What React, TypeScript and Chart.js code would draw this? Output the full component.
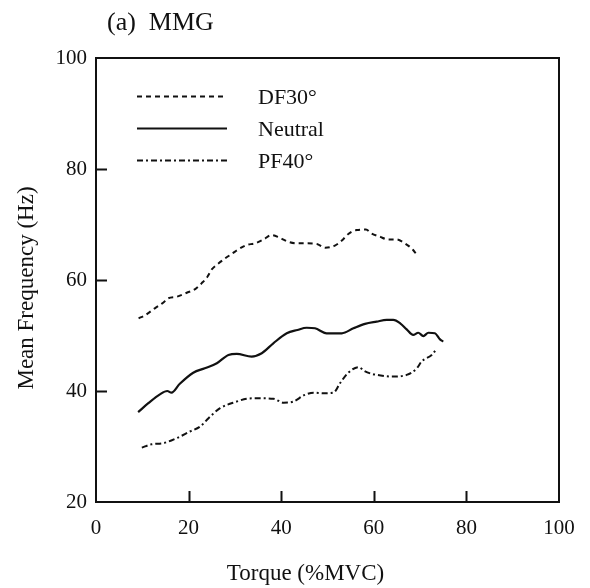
import React, { useEffect, useRef } from "react";
import { Chart, registerables } from "chart.js";

Chart.register(...registerables);

const TITLE = "(a)  MMG";
const X_TITLE = "Torque (%MVC)";
const Y_TITLE = "Mean Frequency (Hz)";
const SERIES_LABELS = ["DF30°", "Neutral", "PF40°"];
const X_RANGE = [0, 100];
const Y_RANGE = [20, 100];
const TICK_STEP = 20;

const df30Torque = [9.2, 10.5, 12.7, 14.5, 15.6, 17.5, 19.6, 21.5, 22.8, 24.0, 25.0, 26.5, 27.9, 29.5, 30.7, 32.5, 34.3, 36.2, 37.9, 39.7, 41.5, 43.5, 45.5, 47.7, 49.5, 51.6, 53.1, 54.5, 56.3, 58.3, 59.5, 61.3, 63.1, 64.9, 66.7, 68.4, 69.4];
const df30Freq = [53.1, 53.6, 54.9, 55.9, 56.7, 57.0, 57.7, 58.4, 59.4, 60.5, 61.9, 63.0, 63.9, 64.8, 65.5, 66.3, 66.6, 67.3, 68.1, 67.6, 66.9, 66.6, 66.6, 66.5, 65.8, 66.2, 67.1, 68.3, 69.0, 69.1, 68.4, 67.8, 67.3, 67.3, 66.6, 65.5, 64.4];

const neutralTorque = [9.1, 11.3, 13.8, 15.4, 16.3, 18.1, 21.0, 23.5, 26.1, 28.6, 30.4, 33.6, 35.8, 38.3, 41.2, 43.5, 45.5, 47.3, 49.8, 53.1, 55.6, 58.1, 60.6, 62.8, 64.2, 65.7, 67.1, 68.5, 69.6, 70.7, 71.8, 73.2, 74.3, 75.0];
const neutralFreq = [36.2, 37.8, 39.4, 40.0, 39.7, 41.3, 43.3, 44.1, 45.0, 46.5, 46.7, 46.2, 46.8, 48.6, 50.4, 51.0, 51.4, 51.3, 50.4, 50.4, 51.3, 52.1, 52.5, 52.8, 52.8, 52.2, 51.1, 50.1, 50.5, 49.9, 50.5, 50.4, 49.3, 48.9];

const pf40Torque = [9.9, 12.0, 14.5, 17.4, 20.3, 22.5, 24.3, 26.8, 30.4, 32.5, 34.7, 38.3, 40.5, 42.6, 45.1, 47.0, 49.1, 51.3, 52.7, 54.5, 56.7, 58.0, 59.5, 61.5, 63.8, 67.1, 69.3, 70.3, 72.5, 73.6];
const pf40Freq = [29.8, 30.4, 30.6, 31.5, 32.7, 33.6, 35.1, 36.9, 38.1, 38.6, 38.7, 38.6, 37.9, 38.1, 39.3, 39.7, 39.6, 39.7, 41.4, 43.3, 44.3, 43.6, 43.1, 42.8, 42.6, 42.9, 44.1, 45.3, 46.5, 47.6];

const SERIF = '"Liberation Serif", "Times New Roman", serif';
const INK = "#111111";

const toPoints = (xs: number[], ys: number[]) => xs.map((x, i) => ({ x, y: ys[i] }));

const decorPlugin = {
  id: "decor",
  afterDraw(chart: any) {
    const { ctx, chartArea: a, scales } = chart;
    ctx.save();
    ctx.strokeStyle = INK;
    ctx.fillStyle = INK;
    ctx.lineWidth = 2;
    ctx.setLineDash([]);
    ctx.strokeRect(a.left, a.top, a.right - a.left, a.bottom - a.top);

    // inward tick marks
    ctx.beginPath();
    const xs = scales.x;
    xs.ticks.forEach((t: any) => {
      if (t.value > xs.min && t.value < xs.max) {
        const px = Math.round(xs.getPixelForValue(t.value)) + 0.5;
        ctx.moveTo(px, a.bottom);
        ctx.lineTo(px, a.bottom - 11);
      }
    });
    const ys = scales.y;
    ys.ticks.forEach((t: any) => {
      if (t.value > ys.min && t.value < ys.max) {
        const py = Math.round(ys.getPixelForValue(t.value)) + 0.5;
        ctx.moveTo(a.left, py);
        ctx.lineTo(a.left + 11, py);
      }
    });
    ctx.stroke();

    // title
    ctx.font = `26px ${SERIF}`;
    ctx.textAlign = "left";
    ctx.textBaseline = "alphabetic";
    ctx.fillText(TITLE, a.left + 11, a.top - 28);

    // axis titles
    ctx.font = `23px ${SERIF}`;
    ctx.textAlign = "center";
    ctx.fillText(X_TITLE, (a.left + a.right) / 2 - 22, 580);
    ctx.save();
    ctx.translate(27, (a.top + a.bottom) / 2 + 8);
    ctx.rotate(-Math.PI / 2);
    ctx.textBaseline = "middle";
    ctx.fillText(Y_TITLE, 0, 0);
    ctx.restore();

    // legend
    const rowY = [a.top + 38, a.top + 70, a.top + 102];
    chart.data.datasets.forEach((ds: any, i: number) => {
      const y = rowY[i] + 0.5;
      ctx.lineWidth = ds.borderWidth;
      ctx.setLineDash(ds.borderDash || []);
      ctx.beginPath();
      ctx.moveTo(a.left + 41, y);
      ctx.lineTo(a.left + 131, y);
      ctx.stroke();
      ctx.setLineDash([]);
      ctx.font = `22px ${SERIF}`;
      ctx.textAlign = "left";
      ctx.textBaseline = "middle";
      ctx.fillText(ds.label, a.left + 162, rowY[i] + 2);
    });
    ctx.restore();
  },
};

export default function App() {
  const canvasRef = useRef<HTMLCanvasElement | null>(null);

  useEffect(() => {
    const canvas = canvasRef.current;
    if (!canvas) return;
    Chart.defaults.color = INK;
    const chart = new Chart(canvas, {
      type: "line",
      data: {
        datasets: [
          {
            label: SERIES_LABELS[0],
            data: toPoints(df30Torque, df30Freq),
            borderColor: INK,
            borderWidth: 2,
            borderDash: [5, 4],
            pointRadius: 0,
            cubicInterpolationMode: "monotone",
            fill: false,
          },
          {
            label: SERIES_LABELS[1],
            data: toPoints(neutralTorque, neutralFreq),
            borderColor: INK,
            borderWidth: 2.2,
            borderDash: [],
            pointRadius: 0,
            cubicInterpolationMode: "monotone",
            fill: false,
          },
          {
            label: SERIES_LABELS[2],
            data: toPoints(pf40Torque, pf40Freq),
            borderColor: INK,
            borderWidth: 2,
            borderDash: [6, 3, 2, 3],
            pointRadius: 0,
            cubicInterpolationMode: "monotone",
            fill: false,
          },
        ],
      },
      options: {
        animation: false,
        responsive: false,
        maintainAspectRatio: false,
        layout: { padding: { top: 58, right: 31, left: 0, bottom: 0 } },
        plugins: {
          legend: { display: false },
          tooltip: { enabled: false },
          title: { display: false },
        },
        scales: {
          x: {
            type: "linear",
            min: X_RANGE[0],
            max: X_RANGE[1],
            grid: { display: false, drawTicks: false },
            border: { display: false },
            ticks: {
              stepSize: TICK_STEP,
              padding: 14,
              color: INK,
              font: { family: SERIF, size: 21 },
              maxRotation: 0,
            },
            afterFit: (s: any) => {
              s.height = 86;
            },
          },
          y: {
            type: "linear",
            min: Y_RANGE[0],
            max: Y_RANGE[1],
            grid: { display: false, drawTicks: false },
            border: { display: false },
            ticks: {
              stepSize: TICK_STEP,
              padding: 9,
              color: INK,
              font: { family: SERIF, size: 21 },
            },
            afterFit: (s: any) => {
              s.width = 96;
            },
          },
        },
      },
      plugins: [decorPlugin],
    });
    return () => chart.destroy();
  }, []);

  return (
    <div style={{ position: "absolute", left: 0, top: 0, width: 590, height: 588, background: "#fff" }}>
      <canvas ref={canvasRef} width={590} height={588} style={{ display: "block" }} />
    </div>
  );
}
